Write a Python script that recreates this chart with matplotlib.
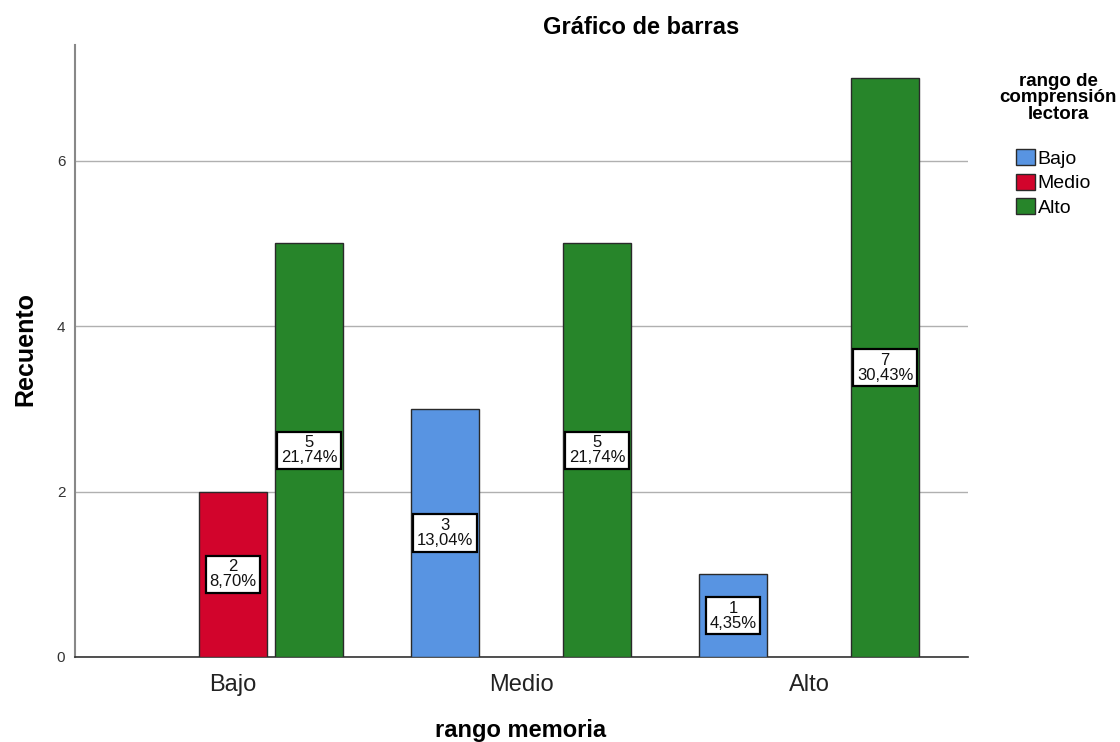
import matplotlib
matplotlib.use("Agg")
import matplotlib.pyplot as plt
from matplotlib.patches import Patch
import numpy as np

plt.rcParams['font.family'] = ['Liberation Sans', 'DejaVu Sans']

groups = ["Bajo", "Medio", "Alto"]            # rango memoria
series = ["Bajo", "Medio", "Alto"]            # rango de comprensión lectora
counts = {
    "Bajo":  [0, 3, 1],
    "Medio": [2, 0, 0],
    "Alto":  [5, 5, 7],
}
colors = {"Bajo": "#5894E2", "Medio": "#D2042C", "Alto": "#27852A"}
total = 23

fig = plt.figure(figsize=(11.2, 7.42), dpi=100)
ax = fig.add_axes([75/1120, 1-657/742, (968-75)/1120, (657-45)/742])

x = np.arange(len(groups))
width = 0.236
offset = 0.264
for i, s in enumerate(series):
    vals = counts[s]
    for j, v in enumerate(vals):
        if v == 0:
            continue
        xp = x[j] + (i-1)*offset
        ax.bar(xp, v, width=width, color=colors[s], edgecolor="#2a2a2a", linewidth=1.0, zorder=3)
        pct = f"{v/total*100:.2f}".replace(".", ",") + "%"
        ax.text(xp, v/2, f"{v}\n{pct}", ha="center", va="center", fontsize=12,
                linespacing=1.0, zorder=4, color="#111111",
                bbox=dict(boxstyle="square,pad=0.22", facecolor="white", edgecolor="black", linewidth=1.6))

ax.set_xlim(-0.549, 2.552)
ax.set_ylim(0, 7.40)
ax.set_yticks([0, 2, 4, 6])
ax.set_yticklabels(["0", "2", "4", "6"], fontsize=11, color="#333333")
ax.set_xticks(x)
ax.set_xticklabels(groups, fontsize=17, color="#222222")
ax.tick_params(axis="y", length=0, pad=7)
ax.tick_params(axis="x", length=0, pad=12)
ax.grid(axis="y", color="#b0b0b0", linewidth=1.0, zorder=0)
ax.set_axisbelow(True)
for sp in ["top", "right"]:
    ax.spines[sp].set_visible(False)
ax.spines["left"].set_color("#888888")
ax.spines["left"].set_linewidth(1.5)
ax.spines["bottom"].set_color("#333333")
ax.spines["bottom"].set_linewidth(1.2)

ax.set_ylabel("Recuento", fontsize=18, fontweight="bold")
ax.yaxis.set_label_coords((37-75)/893, 0.503)
fig.text(521/1120, 1-731/742, "rango memoria", ha="center", va="center", fontsize=17, fontweight="bold")
fig.text(641/1120, 1-28/742, "Gráfico de barras", ha="center", va="center", fontsize=17, fontweight="bold")

fig.text(1058/1120, 1-98/742, "rango de\ncomprensión\nlectora", ha="center", va="center",
         fontsize=13.5, fontweight="bold", linespacing=0.95)

handles = [Patch(facecolor=colors[s], edgecolor="#2a2a2a", label=s) for s in series]
fig.legend(handles=handles, loc="upper left", bbox_to_anchor=(1016/1120, 1-149/742),
           frameon=False, fontsize=14, handlelength=1.0, handleheight=0.9,
           handletextpad=0.12, labelspacing=0.3, borderpad=0.0, borderaxespad=0.0)

fig.savefig("out.png", dpi=100)
